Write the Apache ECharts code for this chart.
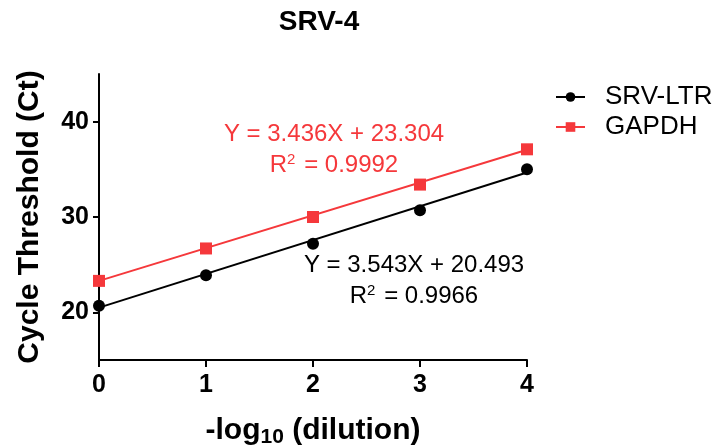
<!DOCTYPE html>
<html>
<head>
<meta charset="utf-8">
<script src="https://cdn.jsdelivr.net/npm/echarts@6/dist/echarts.min.js"></script>
<style>
  html, body { margin: 0; padding: 0; background: #fff; }
  #chart { width: 724px; height: 445px; }
</style>
</head>
<body>
<div id="chart"></div>
<script>
// Dilution series (x = -log10 dilution) and measured Ct values
const dilutions = [0, 1, 2, 3, 4];
const srvLtrCt = [20.7, 23.9, 27.2, 30.7, 35.0];
const gapdhCt = [23.3, 26.7, 30.0, 33.4, 37.1];

// Linear fits: Ct = slope * x + intercept
const fitSlopes = [3.543, 3.436];       // SRV-LTR, GAPDH
const fitIntercepts = [20.493, 23.304];
const fitR2 = ['0.9966', '0.9992'];

const yTickValues = [20, 30, 40];

const BLACK = '#000000';
const RED = '#f5383b';
const FONT = 'Liberation Sans, Arial, sans-serif';

function pairs(xs, ys) { return xs.map((x, i) => [x, ys[i]]); }
function fitLine(k) {
  const x0 = dilutions[0], x1 = dilutions[dilutions.length - 1];
  return [[x0, fitSlopes[k] * x0 + fitIntercepts[k]], [x1, fitSlopes[k] * x1 + fitIntercepts[k]]];
}
function eqText(k) {
  return 'Y = ' + fitSlopes[k].toFixed(3) + 'X + ' + fitIntercepts[k].toFixed(3);
}

const chart = echarts.init(document.getElementById('chart'), null, { renderer: 'canvas' });

// Equation + R² block, centred on (cx, cy)
function eqBlock(k, cx, cy, color) {
  const rich = {
    t: { fontFamily: FONT, fontSize: 24, fill: color },
    sup: { fontFamily: FONT, fontSize: 15, fill: color, verticalAlign: 'top', padding: [0, 2, 10, 0] }
  };
  return {
    type: 'group', x: cx, y: cy,
    children: [
      { type: 'text', style: { x: 0, y: -15, text: eqText(k), fill: color, fontFamily: FONT, fontSize: 24, align: 'center', verticalAlign: 'middle' } },
      { type: 'text', style: { x: 0, y: 16, text: '{t|R}{sup|2}{t| = ' + fitR2[k] + '}', rich: rich, fill: color, align: 'center', verticalAlign: 'middle' } }
    ]
  };
}

chart.setOption({
  animation: false,
  backgroundColor: '#ffffff',
  title: {
    text: 'SRV-4',
    left: 314,
    top: 3,
    textAlign: 'center',
    textStyle: { fontFamily: FONT, fontWeight: 'bold', fontSize: 28, color: BLACK }
  },
  legend: {
    data: ['SRV-LTR', 'GAPDH'],
    orient: 'vertical',
    left: 555,
    top: 84,
    padding: 0,
    itemWidth: 29,
    itemHeight: 12,
    itemGap: 4,
    textStyle: { fontFamily: FONT, fontSize: 26, color: '#000', padding: [0, 0, 0, 15] }
  },
  grid: { left: 99, right: 197, top: 74, bottom: 85, outerBoundsMode: 'none', containLabel: false },
  xAxis: {
    type: 'value',
    min: 0, max: 4, interval: 1,
    name: '{a|-log}{s|10}{a| (dilution)}',
    nameLocation: 'middle',
    nameGap: 54,
    nameTextStyle: {
      rich: {
        a: { fontFamily: FONT, fontWeight: 'bold', fontSize: 30, color: BLACK },
        s: { fontFamily: FONT, fontWeight: 'bold', fontSize: 21, color: BLACK, verticalAlign: 'bottom', padding: [13, 0, 0, 0] }
      }
    },
    axisLine: { onZero: false, lineStyle: { color: BLACK, width: 2 } },
    axisTick: { length: 7, lineStyle: { color: BLACK, width: 2 } },
    axisLabel: { fontFamily: FONT, fontWeight: 'bold', fontSize: 25, color: BLACK, margin: 13 },
    splitLine: { show: false }
  },
  yAxis: {
    type: 'value',
    min: 15, max: 45,
    name: 'Cycle Threshold (Ct)',
    nameLocation: 'middle',
    nameGap: 54,
    nameTextStyle: { fontFamily: FONT, fontWeight: 'bold', fontSize: 30, color: BLACK },
    axisLine: { show: true, onZero: false, lineStyle: { color: BLACK, width: 2 } },
    axisTick: { show: true, length: 6, customValues: yTickValues, lineStyle: { color: BLACK, width: 2 } },
    axisLabel: { fontFamily: FONT, fontWeight: 'bold', fontSize: 25, color: BLACK, margin: 10, customValues: yTickValues },
    splitLine: { show: false }
  },
  graphic: [
    eqBlock(1, 334, 149, RED),
    eqBlock(0, 414, 280, BLACK)
  ],
  series: [
    {
      name: 'SRV-LTR', type: 'line', data: fitLine(0),
      symbol: 'circle', symbolSize: 12, showSymbol: false,
      itemStyle: { color: BLACK }, lineStyle: { color: BLACK, width: 2 },
      z: 2
    },
    {
      name: 'GAPDH', type: 'line', data: fitLine(1),
      symbol: 'rect', symbolSize: 12, showSymbol: false,
      itemStyle: { color: RED }, lineStyle: { color: RED, width: 2 },
      z: 2
    },
    {
      name: 'SRV-LTR points', type: 'scatter', data: pairs(dilutions, srvLtrCt),
      symbol: 'circle', symbolSize: 12, itemStyle: { color: BLACK, opacity: 1 }, z: 3
    },
    {
      name: 'GAPDH points', type: 'scatter', data: pairs(dilutions, gapdhCt),
      symbol: 'rect', symbolSize: 12, itemStyle: { color: RED, opacity: 1 }, z: 3
    }
  ]
});
</script>
</body>
</html>
